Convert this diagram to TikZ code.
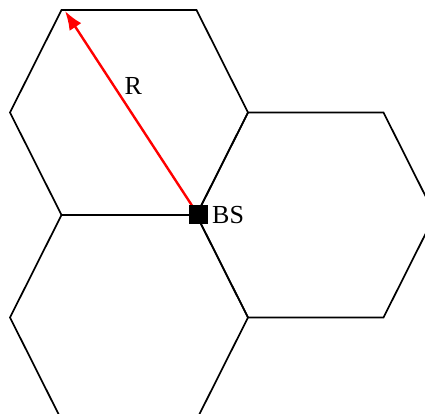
\documentclass[tikz,border=0pt]{standalone}
\usepackage{fontspec}
\setmainfont{Liberation Serif}
\usetikzlibrary{arrows.meta}
\begin{document}
\begin{tikzpicture}[x=1pt,y=-1pt,
  hexline/.style={draw=black,line width=1.7pt,line join=miter},
  radius/.style={draw=red,line width=2.4pt,-{Latex[length=19pt,width=14pt]}},
  bsbox/.style={fill=black,minimum size=19pt,inner sep=0pt},
  lbl/.style={font=\fontsize{26}{29}\selectfont,inner sep=0pt}]
\useasboundingbox (0,0) rectangle (425,414);
\clip (0,0) rectangle (425,414);
% top-left hexagon
\draw[hexline] (10,112.5) -- (61.5,10) -- (196.5,10) -- (248,112.5) -- (196.5,215) -- (61.5,215) -- cycle;
% right hexagon
\draw[hexline] (196.5,215) -- (248,112.5) -- (383.5,112.5) -- (435,215) -- (383.5,317.5) -- (248,317.5) -- cycle;
% bottom hexagon
\draw[hexline] (10,317.5) -- (61.5,215) -- (196.5,215) -- (248,317.5) -- (196.5,420) -- (61.5,420) -- cycle;
\coordinate (V) at (65,11);
\coordinate (C) at (197.5,214);
\draw[radius] (C) -- (V);
\node[bsbox] (bs) at (198.5,214) {};
\node[lbl,anchor=base west] (bslbl) at (212,223.5) {BS};
\node[lbl,anchor=base] (r) at (133.3,95) {R};
\end{tikzpicture}
\end{document}
